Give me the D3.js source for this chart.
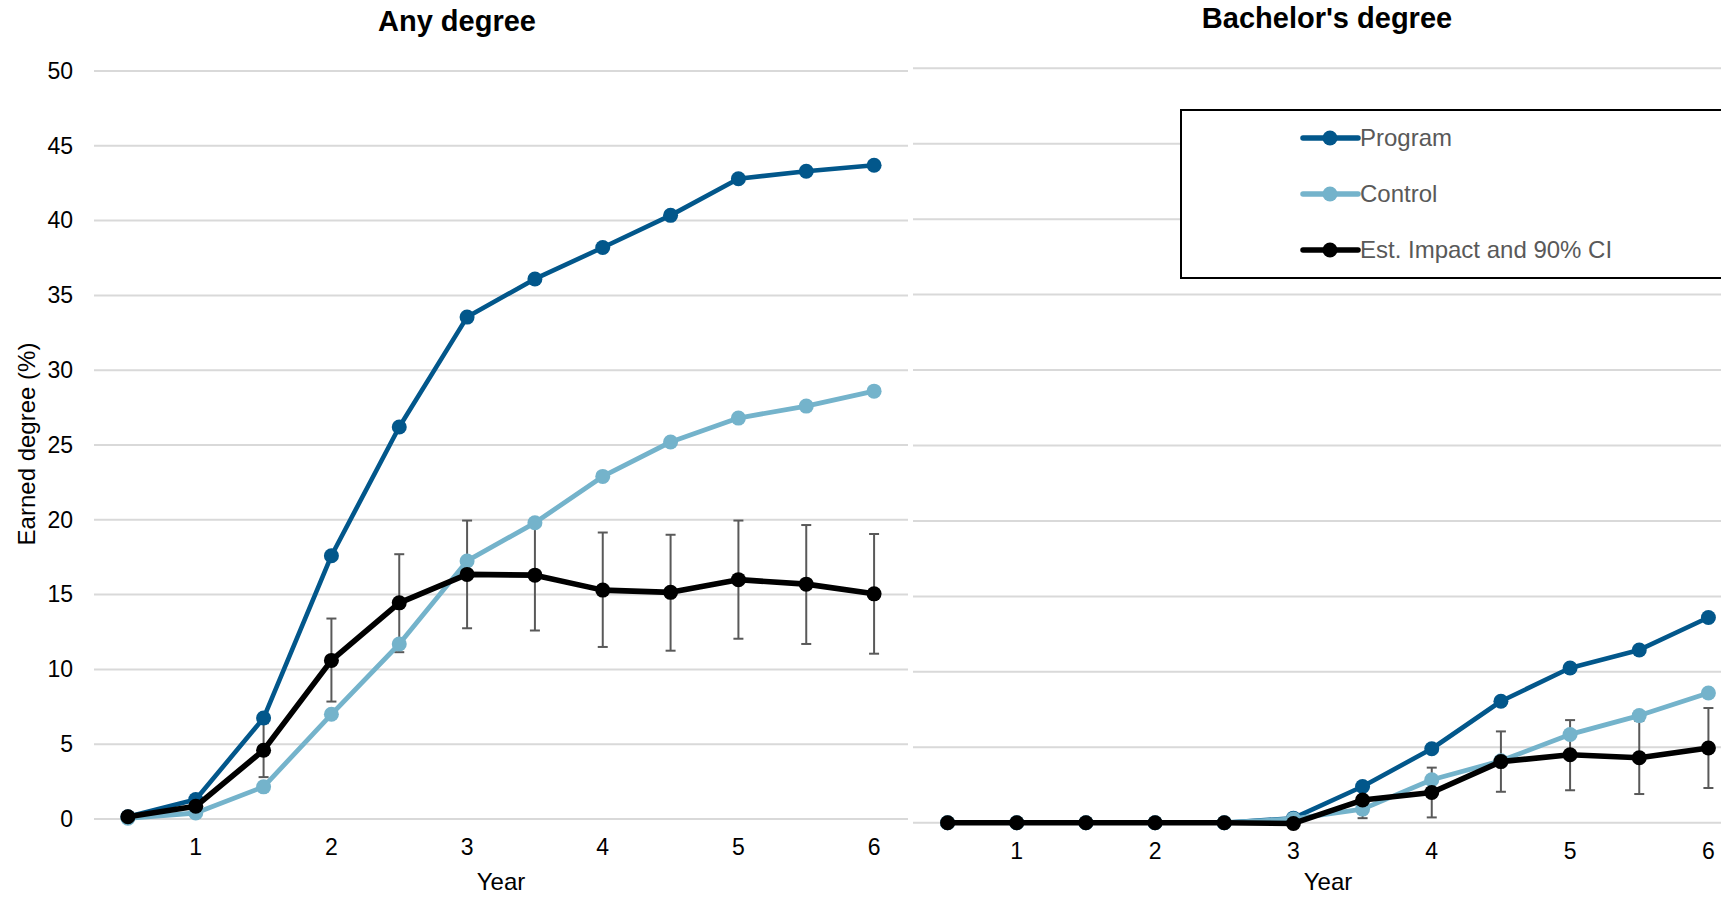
<!DOCTYPE html>
<html><head><meta charset="utf-8">
<script src="https://cdn.jsdelivr.net/npm/d3@7"></script>
<style>body{margin:0;background:#fff}svg{display:block;font-family:"Liberation Sans",Arial,sans-serif}</style>
</head><body><svg id="c" width="1721" height="897"></svg>
<script>
const periods = ["0.5","1","1.5","2","2.5","3","3.5","4","4.5","5","5.5","6"];
const yearTicks = ["1","2","3","4","5","6"];
const yTicks = [0,5,10,15,20,25,30,35,40,45,50];
const seriesNames = ["Program","Control","Est. Impact and 90% CI"];

const anyProgram = [0.15,1.3,6.75,17.6,26.2,33.55,36.1,38.2,40.35,42.8,43.3,43.7];
const anyControl = [0.05,0.4,2.15,7.0,11.7,17.25,19.8,22.9,25.2,26.8,27.6,28.6];
const anyImpact  = [0.15,0.85,4.6,10.6,14.45,16.35,16.3,15.3,15.15,16.0,15.7,15.05];
const anyLow     = [null,0.3,2.8,7.85,11.15,12.75,12.6,11.5,11.25,12.05,11.7,11.05];
const anyHigh    = [null,1.4,6.4,13.4,17.7,19.95,20.0,19.15,19.0,19.95,19.65,19.05];

const baProgram = [0,0,0,0,0,0.3,2.4,4.9,8.05,10.25,11.45,13.6];
const baControl = [0,0,0,0,0,0.25,0.9,2.85,4.1,5.85,7.1,8.6];
const baImpact  = [0,0,0,0,0,-0.05,1.5,2.0,4.05,4.5,4.3,4.95];
const baLow     = [null,null,null,null,null,null,0.3,0.35,2.05,2.15,1.9,2.3];
const baHigh    = [null,null,null,null,null,null,2.7,3.65,6.05,6.8,6.75,7.6];

const colors = ["#02578b","#74b3cb","#000000"];
const svg = d3.select("#c");

function panel(o){
  const x = d3.scaleBand().domain(periods).range(o.xr).paddingInner(0).paddingOuter(0);
  const y = d3.scaleLinear().domain([0,50]).range(o.yr);
  const g = svg.append("g");
  g.selectAll("line.grid").data(yTicks).join("line")
    .attr("x1",o.xr[0]).attr("x2",o.xr[1])
    .attr("y1",d=>y(d)).attr("y2",d=>y(d))
    .attr("stroke","#d9d9d9").attr("stroke-width",2);
  if(o.yLabels){
    const ya = d3.axisLeft(y).tickValues(yTicks).tickSize(0).tickPadding(21);
    const ag = g.append("g").attr("transform",`translate(${o.xr[0]},0)`).call(ya);
    ag.select(".domain").remove();
    ag.selectAll("text").attr("font-size",23).attr("fill","#000").attr("font-family","Liberation Sans, Arial, sans-serif");
  }
  const xa = d3.axisBottom(x).tickValues(yearTicks).tickSize(0).tickPadding(20);
  const xg = g.append("g").attr("transform",`translate(0,${o.yr[0]})`).call(xa);
  xg.select(".domain").remove();
  xg.selectAll("text").attr("font-size",23).attr("fill","#000").attr("font-family","Liberation Sans, Arial, sans-serif");
  g.append("text").attr("x",(o.xr[0]+o.xr[1])/2).attr("y",Math.min(o.yr[0]+71, 890))
    .attr("text-anchor","middle").attr("font-size",24).text("Year");
  g.append("text").attr("x",o.titleX).attr("y",o.titleY)
    .attr("text-anchor","middle").attr("font-size",29).attr("font-weight","bold").text(o.title);

  const cx = d => x(d) + x.bandwidth()/2;
  const line = d3.line().x(d=>cx(d.p)).y(d=>y(d.v));
  const series = [o.prog,o.ctrl,o.imp];
  const widths = [4.6,4.8,5.6];
  const eb = periods.map((p,i)=>({p,lo:o.lo[i],hi:o.hi[i]})).filter(d=>d.lo!=null);
  const ebg = g.append("g").attr("stroke","#595959").attr("stroke-width",2);
  ebg.selectAll("line.v").data(eb).join("line").attr("x1",d=>cx(d.p)).attr("x2",d=>cx(d.p)).attr("y1",d=>y(d.lo)).attr("y2",d=>y(d.hi));
  ebg.selectAll("line.t").data(eb).join("line").attr("x1",d=>cx(d.p)-5).attr("x2",d=>cx(d.p)+5).attr("y1",d=>y(d.hi)).attr("y2",d=>y(d.hi));
  ebg.selectAll("line.b").data(eb).join("line").attr("x1",d=>cx(d.p)-5).attr("x2",d=>cx(d.p)+5).attr("y1",d=>y(d.lo)).attr("y2",d=>y(d.lo));
  series.forEach((s,k)=>{
    const data = periods.map((p,i)=>({p,v:s[i]}));
    g.append("path").datum(data).attr("d",line).attr("fill","none")
      .attr("stroke",colors[k]).attr("stroke-width",widths[k]).attr("stroke-linejoin","round");
    g.selectAll(null).data(data).join("circle").attr("cx",d=>cx(d.p)).attr("cy",d=>y(d.v))
      .attr("r",7.5).attr("fill",colors[k]);
  });
}

panel({xr:[94,908], yr:[819,71], yLabels:true, title:"Any degree", titleX:457, titleY:31,
  prog:anyProgram, ctrl:anyControl, imp:anyImpact, lo:anyLow, hi:anyHigh});
panel({xr:[913,1743], yr:[822.7,68.3], yLabels:false, title:"Bachelor's degree", titleX:1327, titleY:28,
  prog:baProgram, ctrl:baControl, imp:baImpact, lo:baLow, hi:baHigh});

svg.append("text").attr("transform","translate(35,444) rotate(-90)").attr("text-anchor","middle")
  .attr("font-size",24).text("Earned degree (%)");

const lg = svg.append("g");
lg.append("rect").attr("x",1181).attr("y",110).attr("width",600).attr("height",168)
  .attr("fill","#fff").attr("stroke","#000").attr("stroke-width",2);
const ly = d3.scalePoint().domain(seriesNames).range([138,250]);
seriesNames.forEach((n,k)=>{
  const yy = ly(n);
  lg.append("line").attr("x1",1303).attr("x2",1358).attr("y1",yy).attr("y2",yy)
    .attr("stroke",colors[k]).attr("stroke-width",5.5).attr("stroke-linecap","round");
  lg.append("circle").attr("cx",1330).attr("cy",yy).attr("r",7.5).attr("fill",colors[k]);
  lg.append("text").attr("x",1360).attr("y",yy).attr("dy","0.35em").attr("font-size",24)
    .attr("fill","#595959").text(n);
});
</script></body></html>
